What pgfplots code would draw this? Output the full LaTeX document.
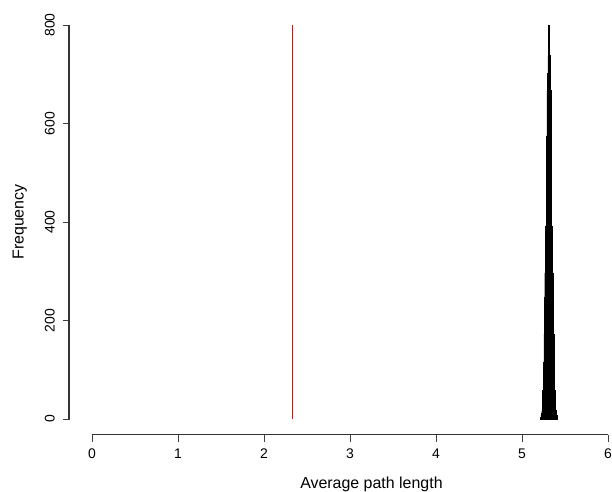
\documentclass[border=0pt]{standalone}
\usepackage{pgfplots}
\pgfplotsset{compat=1.18}
\usepackage{fontspec}
\setmainfont{Liberation Sans}

% histogram of simulated average path lengths (bin width 0.005)
\pgfplotstableread{
x     n
5.215 4
5.220 8
5.225 12
5.230 17
5.235 35
5.240 58
5.245 82
5.250 116
5.255 173
5.260 248
5.265 297
5.270 341
5.275 392
5.280 458
5.285 575
5.290 667
5.295 702
5.300 738
5.305 774
5.310 800
5.315 774
5.320 738
5.325 702
5.330 667
5.335 575
5.340 458
5.345 392
5.350 341
5.355 297
5.360 248
5.365 173
5.370 116
5.375 82
5.380 58
5.385 35
5.390 17
5.395 12
5.400 8
5.405 4
5.410 0
}\hist

\begin{document}
\begin{tikzpicture}[x=1bp,y=1bp]
\begin{axis}[
    at={(0,0)}, anchor=south west,
    scale only axis,
    width=603.7bp, height=425.5bp,
    xmin=-0.26, xmax=6.76,
    ymin=-32, ymax=832,
    axis lines=left,
    axis line style={draw=none},
    xtick={0,1,2,3,4,5,6},
    ytick={0,200,400,600,800},
    tick align=outside,
    major tick length=7bp,
    tick style={black!75, line width=0.9bp},
    /pgf/number format/assume math mode=true,
    xticklabel style={font=\fontsize{14}{16}\selectfont, anchor=base, yshift=-17bp},
    yticklabel style={font=\fontsize{14}{16}\selectfont, rotate=90, anchor=base, yshift=8bp},
    xlabel={Average path length},
    ylabel={Frequency},
    xlabel style={font=\fontsize{16}{18}\selectfont, at={([yshift=-53.5bp]axis description cs:0.5,0)}, anchor=base},
    ylabel style={font=\fontsize{16}{18}\selectfont, at={([xshift=-46bp]axis description cs:0,0.5)}, anchor=base},
    clip=false,
]
% R-style axis lines, spanning only the first to last tick
\addplot[black!80, line width=1bp, forget plot] coordinates {(0,-32) (6,-32)};
\addplot[black!80, line width=1.2bp, forget plot] coordinates {(-0.268,0) (-0.268,800)};
\addplot[ybar interval, fill=black, draw=black, line width=0.4bp] table[x=x, y=n] {\hist};
\addplot[red, line width=1bp] coordinates {(2.33,0) (2.33,800)};
\end{axis}
\pgfresetboundingbox
\useasboundingbox (-69.6,-57.2) rectangle (542.4,434.8);
\end{tikzpicture}
\end{document}
